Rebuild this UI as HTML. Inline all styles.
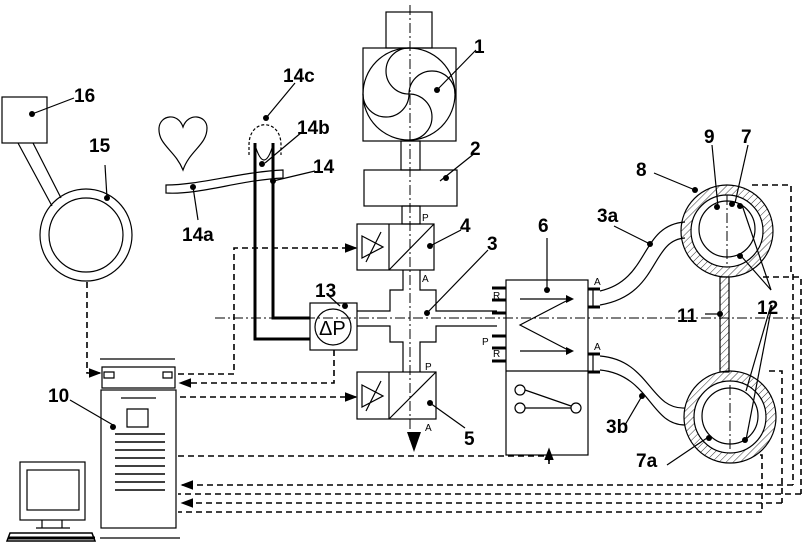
<!DOCTYPE html>
<html><head><meta charset="utf-8"><style>
html,body{margin:0;padding:0;background:#fff}
svg{display:block}
text{font-family:"Liberation Sans",sans-serif;font-weight:bold;fill:#000}
.l{stroke:#000;fill:none;stroke-width:1.2}
.d{stroke:#000;fill:none;stroke-width:1.6;stroke-dasharray:6 4}
.c{stroke:#000;fill:none;stroke-width:1;stroke-dasharray:10 3 2 3}
.s{font-size:10px;font-weight:normal}
</style></head><body>
<svg width="809" height="555" viewBox="0 0 809 555" xmlns="http://www.w3.org/2000/svg">
<defs>
<pattern id="h" width="5" height="5" patternUnits="userSpaceOnUse" patternTransform="rotate(45)"><line x1="0" y1="0" x2="0" y2="5" stroke="#000" stroke-width="0.8"/></pattern>
<marker id="a" markerWidth="8" markerHeight="8" refX="7" refY="4" orient="auto"><path d="M0,1 L8,4 L0,7z" fill="#000"/></marker>
</defs>
<!-- pump 1 -->
<rect class="l" x="386" y="12" width="46" height="36"/>
<rect class="l" x="363" y="48" width="93" height="93"/>
<circle class="l" cx="409" cy="94" r="46"/>
<path class="l" d="M409,94 A23,23 0 0 1 409,48 M409,94 A23,23 0 0 1 363,94 M409,94 A23,23 0 0 1 409,140 M409,94 A23,23 0 0 1 455,94"/>
<rect class="l" x="401" y="141" width="19" height="29"/>
<rect class="l" x="364" y="170" width="93" height="36"/>
<rect class="l" x="402" y="206" width="18" height="18"/>
<!-- valve 4 -->
<rect class="l" x="357" y="224" width="77" height="46"/>
<line class="l" x1="389" y1="224" x2="389" y2="270"/><line class="l" x1="389" y1="270" x2="434" y2="224"/>
<path class="l" d="M362,236 L383,247 L362,258z M366,262 L381,232"/>
<text class="s" x="422" y="221">P</text><text class="s" x="422" y="282">A</text>
<!-- cross -->
<path class="l" d="M403,270 V290 H390 V311 H357 M420,270 V290 H436 V311 H497 M357,326 H390 V342 H403 V372 M420,372 V342 H436 V326 H497"/>
<!-- valve 5 -->
<rect class="l" x="357" y="372" width="79" height="47"/>
<line class="l" x1="389" y1="372" x2="389" y2="419"/><line class="l" x1="389" y1="419" x2="436" y2="372"/>
<path class="l" d="M362,385 L383,396 L362,407z M366,411 L381,381"/>
<text class="s" x="425" y="370">P</text><text class="s" x="425" y="431">A</text>
<path d="M407,432 H421 L414,452z" fill="#000"/>
<line class="c" x1="410" y1="5" x2="410" y2="440"/>
<line class="c" x1="215" y1="318" x2="800" y2="318"/>
<!-- valve 6 -->
<rect class="l" x="506" y="280" width="82" height="175"/>
<line class="l" x1="506" y1="371" x2="588" y2="371"/>
<path class="l" d="M520,299 H570 M520,351 H570 M570,299 L520,325 L570,351" />
<path d="M566,295 L574,299 L566,303z M566,347 L574,351 L566,355z" fill="#000"/>
<path d="M492,288 H506 M492,300 H506 M492,313 H506 M492,336 H506 M492,348 H506 M492,361 H506 M588,289 H600 M588,307 H600 M588,354 H600 M588,372 H600" stroke="#000" stroke-width="3"/>
<line class="l" x1="593" y1="289" x2="593" y2="307"/><line class="l" x1="593" y1="354" x2="593" y2="372"/>
<text class="s" x="493" y="299">R</text><text class="s" x="482" y="345">P</text><text class="s" x="493" y="357">R</text>
<text class="s" x="594" y="285">A</text><text class="s" x="594" y="350">A</text>
<circle class="l" cx="520" cy="390" r="5"/><circle class="l" cx="520" cy="408" r="5"/><circle class="l" cx="576" cy="408" r="5"/>
<path class="l" d="M525,390 L571,406 M525,408 H571"/>
<!-- tubes 3a 3b -->
<path class="l" d="M600,291 C650,280 640,225 685,222 M600,305 C660,295 650,240 685,238"/>
<path class="l" d="M600,356 C650,360 650,410 685,408 M600,370 C650,375 650,425 685,425"/>
<!-- circles -->
<circle cx="727" cy="231" r="46" fill="url(#h)" stroke="#000" stroke-width="1.2"/>
<circle cx="727" cy="231" r="36" fill="#fff" stroke="#000" stroke-width="1.2"/>
<circle cx="727" cy="229" r="28" fill="#fff" stroke="#000" stroke-width="1.2"/>
<circle cx="730" cy="417" r="46" fill="url(#h)" stroke="#000" stroke-width="1.2"/>
<circle cx="730" cy="417" r="36" fill="#fff" stroke="#000" stroke-width="1.2"/>
<circle cx="730" cy="416" r="28" fill="#fff" stroke="#000" stroke-width="1.2"/>
<rect x="720" y="277" width="9" height="95" fill="url(#h)" stroke="#000" stroke-width="1.2"/>
<line class="c" x1="727" y1="195" x2="727" y2="265"/><line class="c" x1="730" y1="385" x2="730" y2="450"/>
<!-- dashed from sensors -->
<path class="d" d="M752,185 H791 V272 H793 V485"/>
<path class="d" d="M763,277 H801 V494"/>
<path class="d" d="M769,371 H782 V503"/>
<path class="d" d="M760,455 H762 V512"/>
<path class="d" d="M793,485 H182" marker-end="url(#a)"/>
<path class="d" d="M801,494 H178"/>
<path class="d" d="M782,503 H182" marker-end="url(#a)"/>
<path class="d" d="M762,512 H178"/>
<!-- 13 dP -->
<rect class="l" x="310" y="303" width="47" height="47"/>
<circle class="l" cx="333" cy="327" r="18"/>
<text x="319" y="335" style="font-weight:normal;font-size:20px">ΔP</text>
<path d="M255,143 V339 H310 M273,143 V318 H310" stroke="#000" stroke-width="3" fill="none"/>
<path class="l" d="M249,155 V145 C249,118 281,118 281,145 V155" stroke-dasharray="3 2"/>
<path class="l" d="M255,145 Q264,175 273,145"/>
<path class="l" d="M166,185 C200,185 240,172 283,170 L283,178 C240,180 200,195 166,193z"/>
<!-- heart -->
<path class="l" d="M183,170 C175,150 158,145 159,128 C160,115 178,112 183,127 C188,112 207,115 207,128 C207,145 190,150 183,170z"/>
<!-- 16, 15 -->
<rect class="l" x="2" y="97" width="45" height="46"/>
<path class="l" d="M18,143 L52,206 M33,143 L61,198"/>
<circle class="l" cx="86" cy="235" r="46"/><circle class="l" cx="86" cy="235" r="37"/>
<!-- left dashed -->
<path class="d" d="M87,282 V373 H100" marker-end="url(#a)"/>
<path class="d" d="M178,374 H234 V248 H356" marker-end="url(#a)"/>
<path class="d" d="M334,350 V383 H180" marker-end="url(#a)"/>
<path class="d" d="M180,397 H356" marker-end="url(#a)"/>
<path class="d" d="M178,456 H549 V462"/>
<line x1="549" y1="464" x2="549" y2="449" stroke="#000" stroke-width="1.6" stroke-dasharray="5 3" marker-end="url(#a)"/>
<!-- computer -->
<path class="l" d="M100,359 H175 M102,367 V388 H175 V367z M104,372 H114 V378 H104z M163,372 H172 V378 H163z"/>
<rect class="l" x="101" y="390" width="75" height="138"/>
<path class="l" d="M121,398 H156 M127,409 H148 V427 H127z"/>
<path d="M115,434 h50 M115,442 h50 M115,450 h50 M115,458 h50 M115,466 h50 M115,474 h50 M115,482 h50 M115,490 h50" stroke="#000" stroke-width="1.5"/>
<path class="l" d="M100,538 H180"/>
<rect class="l" x="20" y="462" width="65" height="58"/><rect class="l" x="27" y="470" width="52" height="40"/>
<path class="l" d="M42,520 V528 M62,520 V528 M36,528 H70"/>
<path d="M10,533 H92 L95,541 H7z" fill="none" stroke="#000" stroke-width="1.5"/>
<path d="M8,538 H95" stroke="#000" stroke-width="3"/>
<!-- leaders -->
<g stroke="#000" stroke-width="1.2">
<line x1="437" y1="90" x2="476" y2="50"/><line x1="440" y1="181" x2="475" y2="153"/>
<line x1="430" y1="246" x2="461" y2="230"/><line x1="427" y1="313" x2="488" y2="250"/>
<line x1="547" y1="290" x2="547" y2="238"/><line x1="430" y1="403" x2="465" y2="428"/>
<line x1="340" y1="306" x2="329" y2="296"/><line x1="113" y1="425" x2="70" y2="400"/>
<line x1="32" y1="114" x2="74" y2="98"/><line x1="107" y1="198" x2="105" y2="165"/>
<line x1="266" y1="118" x2="295" y2="83"/><line x1="265" y1="163" x2="302" y2="132"/>
<line x1="273" y1="181" x2="315" y2="171"/><line x1="193" y1="187" x2="198" y2="220"/>
<line x1="650" y1="244" x2="614" y2="226"/><line x1="642" y1="396" x2="625" y2="425"/>
<line x1="695" y1="190" x2="654" y2="173"/><line x1="718" y1="207" x2="712" y2="145"/>
<line x1="735" y1="203" x2="748" y2="145"/><line x1="720" y1="314" x2="705" y2="314"/>
<line x1="707" y1="438" x2="667" y2="465"/>
<line x1="742" y1="205" x2="771" y2="290"/><line x1="742" y1="257" x2="771" y2="290"/>
<line x1="746" y1="391" x2="771" y2="305"/><line x1="746" y1="440" x2="772" y2="305"/>
</g>
<g fill="#000">
<circle cx="437" cy="90" r="3"/><circle cx="446" cy="178" r="3"/><circle cx="430" cy="246" r="3"/><circle cx="427" cy="313" r="3"/>
<circle cx="547" cy="290" r="3"/><circle cx="430" cy="403" r="3"/><circle cx="345" cy="306" r="3"/><circle cx="113" cy="427" r="3"/>
<circle cx="32" cy="114" r="3"/><circle cx="107" cy="198" r="3"/><circle cx="266" cy="118" r="3"/><circle cx="262" cy="164" r="3"/>
<circle cx="273" cy="181" r="3"/><circle cx="193" cy="187" r="3"/><circle cx="650" cy="244" r="3"/><circle cx="642" cy="396" r="3"/>
<circle cx="695" cy="190" r="3"/><circle cx="717" cy="207" r="3"/><circle cx="732" cy="204" r="3"/><circle cx="720" cy="314" r="3"/>
<circle cx="709" cy="438" r="3"/><circle cx="740" cy="256" r="3"/><circle cx="745" cy="440" r="3"/><circle cx="740" cy="206" r="3"/>
</g>
<g font-size="19">
<text x="474" y="53">1</text><text x="470" y="155">2</text><text x="487" y="250">3</text><text x="460" y="232">4</text>
<text x="464" y="445">5</text><text x="538" y="232">6</text><text x="741" y="143">7</text><text x="636" y="176">8</text>
<text x="704" y="143">9</text><text x="48" y="402">10</text><text x="677" y="322">11</text><text x="757" y="314">12</text>
<text x="315" y="297">13</text><text x="313" y="173">14</text><text x="182" y="241">14a</text><text x="297" y="134">14b</text>
<text x="283" y="82">14c</text><text x="89" y="152">15</text><text x="74" y="102">16</text><text x="597" y="222">3a</text>
<text x="606" y="433">3b</text><text x="636" y="467">7a</text>
</g>
</svg>
</body></html>
